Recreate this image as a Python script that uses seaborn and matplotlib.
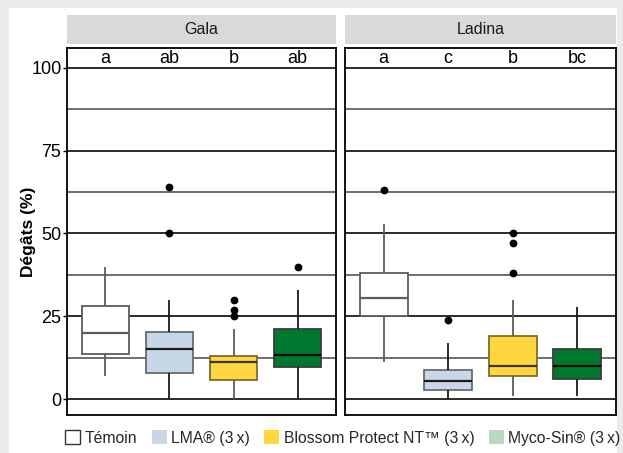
import matplotlib
matplotlib.use("Agg")
import matplotlib.pyplot as plt
from matplotlib.patches import Rectangle, Patch
from matplotlib import font_manager
import pandas as pd
import seaborn as sns

# --- data -------------------------------------------------------------
treatments = ["Témoin", "LMA® (3\u2009x)", "Blossom Protect NT™ (3\u2009x)", "Myco-Sin® (3\u2009x)"]
cultivars = ["Gala", "Ladina"]

# damage (%) per tree, per cultivar and treatment
gala_temoin = [7, 9, 11, 12.5, 13.5, 15, 17, 18.5, 20, 22, 24, 26, 28.2, 30, 33, 36, 40]
gala_lma = [0, 2, 4, 6, 7.8, 10, 12, 13.5, 15, 16.5, 18, 19, 20.2, 25, 30, 50, 64]
gala_blossom = [0, 2, 3.5, 5, 5.7, 7, 8.5, 10, 11.1, 11.8, 12.3, 12.8, 13.1, 21.1, 25, 27, 30]
gala_myco = [0, 4, 6, 8, 9.8, 10.5, 11.5, 12.5, 13.4, 15, 17, 19, 21.1, 24, 28, 32.9, 40]

ladina_temoin = [11.1, 16, 20, 23, 25.1, 26.5, 28, 29.5, 30.5, 32, 34, 36, 38, 41, 45, 52.9, 63]
ladina_lma = [0, 1, 1.5, 2, 2.7, 3.5, 4.2, 5, 5.5, 6.2, 7, 8, 8.9, 11, 14, 16.8, 24]
ladina_blossom = [1, 3, 4.5, 6, 7.1, 8, 9, 9.6, 10.1, 12, 14, 16.5, 19.2, 29.9, 38, 47, 50]
ladina_myco = [1, 2.5, 4, 5, 6, 7, 8.5, 9.5, 10.1, 11, 12, 13.5, 15, 17, 20, 24, 27.9]

# significance letters above each box
gala_letters = ["a", "ab", "b", "ab"]
ladina_letters = ["a", "c", "b", "bc"]

yticks = [0, 25, 50, 75, 100]
yminor = [12.5, 37.5, 62.5, 87.5]

# --- styling ----------------------------------------------------------
fill_colors = ["#ffffff", "#c7d7e7", "#ffd640", "#00782f"]
legend_colors = ["#ffffff", "#c7d7e7", "#ffd640", "#b6dabb"]
edge_colors = ["#5c5c5c", "#6a6a6a", "#7d6c2c", "#3c3c3c"]
median_colors = ["#5c5c5c", "#1a1a1a", "#3b3220", "#0a0a0a"]
whisker_colors = ["#5c5c5c", "#1a1a1a", "#5c5c5c", "#1a1a1a"]

sns.set_theme(style="white")
names = {f.name for f in font_manager.fontManager.ttflist}
base = "Liberation Sans Narrow" if "Liberation Sans Narrow" in names else "Liberation Sans"
plt.rcParams["font.family"] = [base, "DejaVu Sans"]

frames = []
for cv, groups in zip(cultivars, [[gala_temoin, gala_lma, gala_blossom, gala_myco],
                                  [ladina_temoin, ladina_lma, ladina_blossom, ladina_myco]]):
    for tr, vals in zip(treatments, groups):
        frames.append(pd.DataFrame({"cultivar": cv, "traitement": tr, "degats": vals}))
df = pd.concat(frames, ignore_index=True)

W, H = 623, 453
fig = plt.figure(figsize=(W / 100, H / 100), dpi=100)
fig.patch.set_facecolor("#ebebeb")
fig.patches.append(Rectangle((9 / W, 0), (617 - 9) / W, (H - 8) / H,
                             transform=fig.transFigure, facecolor="white",
                             edgecolor="none", zorder=-5))

panel_x = [(67, 336), (345, 616)]
ax_top, ax_bot = 48, 415
strip_top, strip_bot = 15, 44

letters_all = [gala_letters, ladina_letters]
for i, cv in enumerate(cultivars):
    x0, x1 = panel_x[i]
    ax = fig.add_axes([x0 / W, (H - ax_bot) / H, (x1 - x0) / W, (ax_bot - ax_top) / H])
    sub = df[df["cultivar"] == cv]
    sns.boxplot(data=sub, x="traitement", y="degats", hue="traitement",
                order=treatments, hue_order=treatments,
                palette=dict(zip(treatments, fill_colors)), saturation=1,
                dodge=False, width=0.74, showcaps=False, whis=1.5, legend=False, ax=ax,
                flierprops=dict(marker="o", markersize=4.6, markerfacecolor="black",
                                markeredgecolor="black"),
                linewidth=1.3)
    for j, cont in enumerate(ax.containers):
        for b in cont.boxes:
            b.set_edgecolor(edge_colors[j])
            b.set_linewidth(1.3)
        for m in cont.medians:
            m.set_color(median_colors[j])
            m.set_linewidth(1.6)
        for w in cont.whiskers:
            w.set_color(whisker_colors[j])
            w.set_linewidth(1.3)

    ax.set_xlim(-0.6, 3.6)
    ax.set_ylim(-4.8, 106)
    ax.set_yticks(yticks)
    ax.set_yticks(yminor, minor=True)
    ax.set_axisbelow(True)
    ax.grid(which="major", axis="y", color="#1a1a1a", linewidth=1.3)
    ax.grid(which="minor", axis="y", color="#555555", linewidth=1.2)
    ax.set_xticks([])
    ax.set_xlabel("")
    ax.set_ylabel("")
    for s in ax.spines.values():
        s.set_visible(True)
        s.set_color("black")
        s.set_linewidth(1.3)
    ax.tick_params(axis="y", which="major", left=(i == 0), length=3, width=1,
                   color="black", labelsize=13, pad=1, labelleft=(i == 0),
                   labelcolor="black")
    ax.tick_params(axis="y", which="minor", length=0)

    for k, letter in enumerate(letters_all[i]):
        ax.text(k, 102.8, letter, ha="center", va="center", fontsize=13, color="black")

    # facet strip
    sax = fig.add_axes([x0 / W, (H - strip_bot) / H, (x1 - x0) / W, (strip_bot - strip_top) / H])
    sax.set_facecolor("#d9d9d9")
    sax.set_xticks([])
    sax.set_yticks([])
    for s in sax.spines.values():
        s.set_visible(False)
    sax.text(0.5, 0.5, cv, ha="center", va="center", fontsize=11.5, color="#1a1a1a",
             transform=sax.transAxes)

fig.text(28 / W, (H - 232) / H, "Dégâts (%)", rotation=90, ha="center", va="center",
         fontsize=12.5, fontweight="bold", color="black")

handles = [Patch(facecolor=c, edgecolor=("#333333" if k == 0 else "none"), linewidth=1.0)
           for k, c in enumerate(legend_colors)]
fig.legend(handles, treatments, loc="center", bbox_to_anchor=(343 / W, (H - 438) / H),
           ncol=4, frameon=False, fontsize=11.3, handlelength=0.95, handleheight=0.95,
           handletextpad=0.3, columnspacing=0.9, borderaxespad=0, borderpad=0)

fig.savefig("out.png", dpi=100, facecolor=fig.get_facecolor())
